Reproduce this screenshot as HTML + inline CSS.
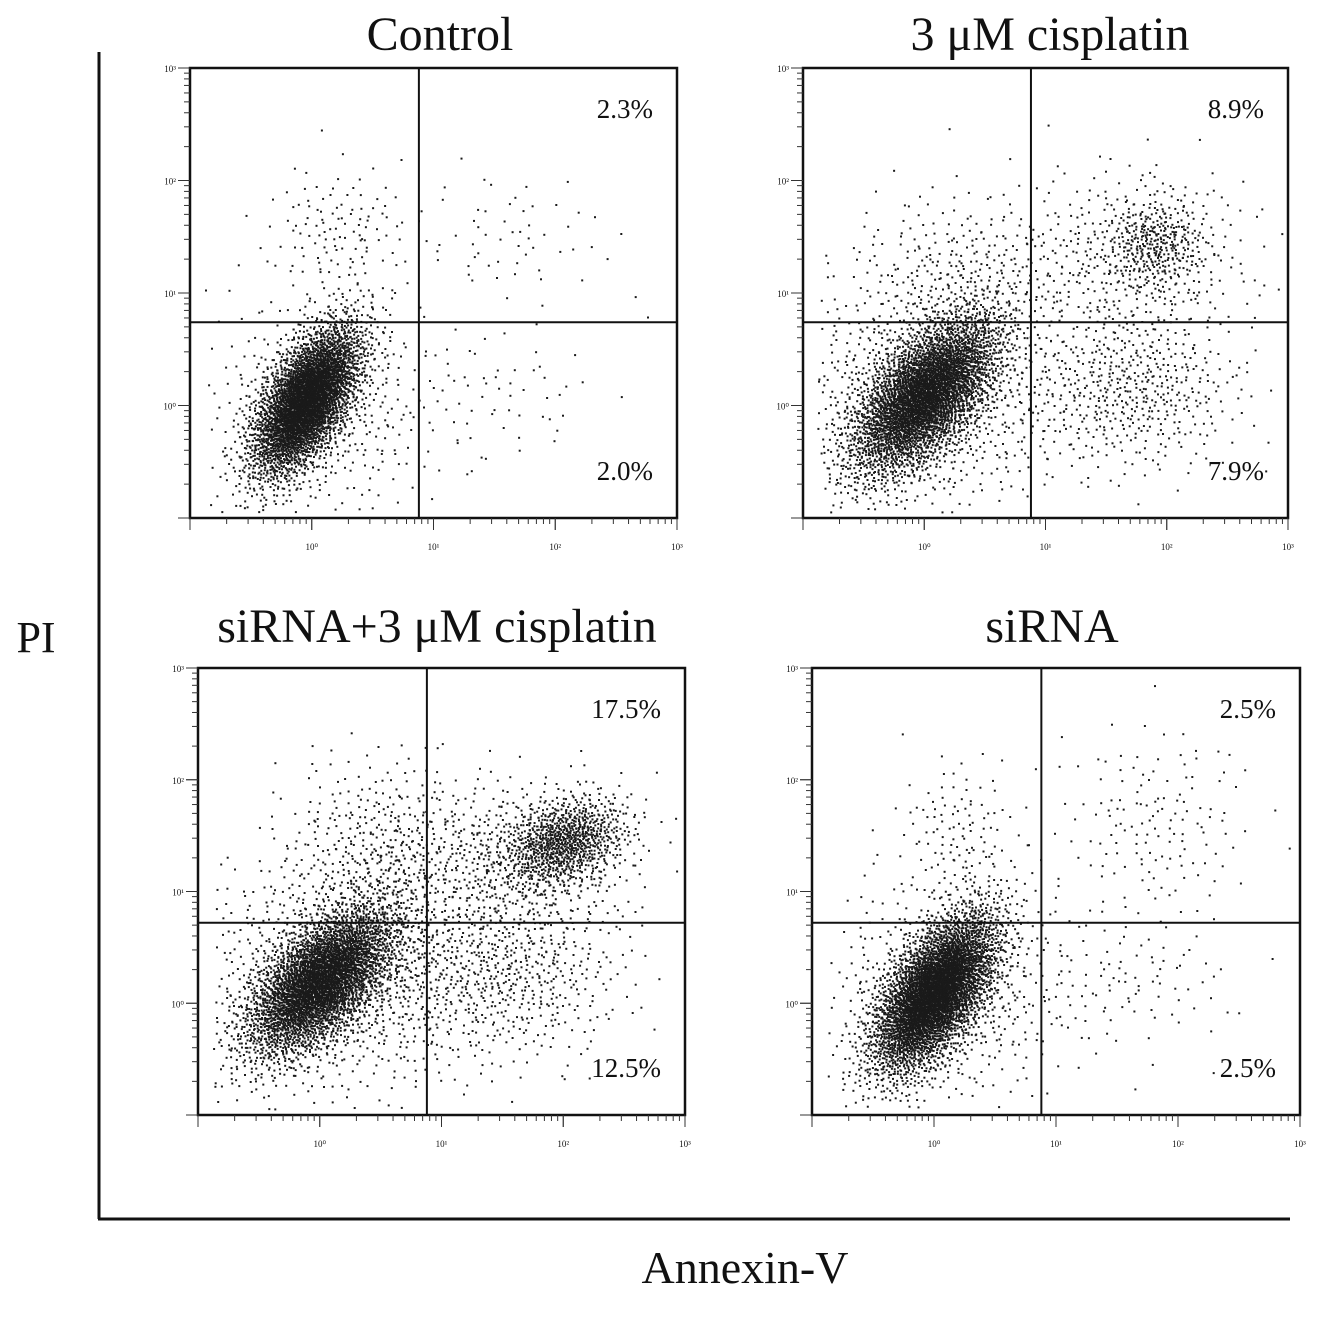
<!DOCTYPE html>
<html><head><meta charset="utf-8">
<style>
body{margin:0;background:#fff;}
svg text{font-family:"Liberation Serif",serif;fill:#111;}
</style></head>
<body>
<svg id="fig" width="1323" height="1318" viewBox="0 0 1323 1318" xmlns="http://www.w3.org/2000/svg">
<line x1="99" y1="52" x2="99" y2="1219" stroke="#111" stroke-width="3"/>
<line x1="98" y1="1219" x2="1290" y2="1219" stroke="#111" stroke-width="3"/>
<text x="36" y="652" font-size="44" text-anchor="middle">PI</text>
<text x="745" y="1283" font-size="46" text-anchor="middle">Annexin-V</text>
</svg>
<script>
// Panel data
const panelTitles = ["Control", "3 \u03BCM cisplatin", "siRNA+3 \u03BCM cisplatin", "siRNA"];
const panelURPercent = ["2.3%", "8.9%", "17.5%", "2.5%"];
const panelLRPercent = ["2.0%", "7.9%", "12.5%", "2.5%"];
const gateX = [0.88, 0.88, 0.88, 0.88];   // log10 Annexin-V gate
const gateY = [0.74, 0.74, 0.72, 0.72];   // log10 PI gate
const tickLabels = ["10\u2070", "10\u00B9", "10\u00B2", "10\u00B3"];
// Population clusters (log units)
const clusterPanel = [0,0,0,0,0, 1,1,1,1,1,1, 2,2,2,2,2,2, 3,3,3,3,3];
const clusterX  = [-0.05,0.1,0.2,1.6,1.6,  0.0,0.0,0.3,1.9,1.7,1.7,  0.0,0.2,0.5,2.0,1.6,1.5,  0.0,0.1,0.2,1.8,1.6];
const clusterY  = [0.05,0.0,1.55,1.5,0.1,  0.1,0.1,1.2,1.45,1.3,0.15,  0.2,0.3,1.4,1.45,1.3,0.3,  0.1,0.1,1.5,1.6,0.2];
const clusterSX = [0.22,0.5,0.3,0.45,0.4,  0.3,0.6,0.45,0.2,0.5,0.45,  0.3,0.6,0.4,0.25,0.5,0.5,  0.25,0.5,0.25,0.4,0.45];
const clusterSY = [0.33,0.5,0.3,0.3,0.3,  0.35,0.55,0.35,0.2,0.4,0.35,  0.33,0.55,0.4,0.2,0.35,0.4,  0.35,0.5,0.35,0.45,0.3];
const clusterRho= [0.6,0,0,0,0,  0.6,0,0,0,0,0,  0.6,0,0,0.3,0,0,  0.6,0,0,0,0];
const clusterN  = [4000,400,120,60,50,  4000,850,250,300,400,500,  4000,950,350,900,500,600,  4500,550,120,150,90];

const boxes = [
  {x0:190,x1:677,y0:68,y1:518,tx:440,ty:50},
  {x0:803,x1:1288,y0:68,y1:518,tx:1050,ty:50},
  {x0:198,x1:685,y0:668,y1:1115,tx:437,ty:642},
  {x0:812,x1:1300,y0:668,y1:1115,tx:1052,ty:642}
];
const NS="http://www.w3.org/2000/svg";
const svg=document.getElementById('fig');
function mk(t,a,p){const e=document.createElementNS(NS,t);for(const k in a)e.setAttribute(k,a[k]);(p||svg).appendChild(e);return e;}
function halton(i,b){let f=1,r=0;while(i>0){f/=b;r+=f*(i%b);i=Math.floor(i/b);}return r;}

boxes.forEach((b,pi)=>{
  const g=mk('g',{});
  
  
  const sx=v=>b.x0+(v+1)/4*(b.x1-b.x0);
  const sy=v=>b.y1-(v+1)/4*(b.y1-b.y0);
  const t=mk('text',{x:b.tx,y:b.ty,'font-size':48,'text-anchor':'middle'},g);
  t.textContent=panelTitles[pi];
  
  
  const dg=mk('g',{fill:'#1a1a1a'},g);
  
  
  let idx=1+pi*20000;
  clusterPanel.forEach((p,ci)=>{
    if(p!==pi)return;
    for(let k=0;k<clusterN[ci];k++,idx++){
      const u1=Math.max(1e-6,halton(idx,2)),u2=halton(idx,3);
      const r=Math.sqrt(-2*Math.log(u1));
      const z1=r*Math.cos(2*Math.PI*u2),z2=r*Math.sin(2*Math.PI*u2);
      const rho=clusterRho[ci];
      const lx=clusterX[ci]+clusterSX[ci]*z1;
      const ly=clusterY[ci]+clusterSY[ci]*(rho*z1+Math.sqrt(1-rho*rho)*z2);
      const px=sx(lx),py=sy(ly);
      if(px<b.x0+14||px>b.x1-6||py<b.y0+6||py>b.y1-6)continue;
      mk('rect',{x:px.toFixed(1),y:py.toFixed(1),width:2,height:2},dg);
    }
  });
  const rb=mk('rect',{x:b.x0,y:b.y0,width:b.x1-b.x0,height:b.y1-b.y0,fill:'none',stroke:'#111','stroke-width':2.5},g);
  
  
  const gx=mk('line',{x1:sx(gateX[pi]),x2:sx(gateX[pi]),y1:b.y0,y2:b.y1,stroke:'#111','stroke-width':2},g);
  
  
  const gy=mk('line',{x1:b.x0,x2:b.x1,y1:sy(gateY[pi]),y2:sy(gateY[pi]),stroke:'#111','stroke-width':2},g);
  
  
  for(let dec=-1;dec<3;dec++){
    for(let m=1;m<=10;m++){
      const v=dec+Math.log10(m);
      const major=(m===1||m===10);
      const L=major?12:6;
      mk('line',{x1:sx(v),x2:sx(v),y1:b.y1,y2:b.y1+L,stroke:'#333','stroke-width':1},g);
      mk('line',{x1:b.x0,x2:b.x0-L,y1:sy(v),y2:sy(v),stroke:'#333','stroke-width':1},g);
    }
  }
  tickLabels.forEach((lab,i)=>{
    const tx=mk('text',{x:sx(i),y:b.y1+32,'font-size':9,'text-anchor':'middle',fill:'#444'},g);
    tx.textContent=lab;
    
    
    const ty=mk('text',{x:b.x0-14,y:sy(i)+4,'font-size':9,'text-anchor':'end',fill:'#444'},g);
    ty.textContent=lab;
    
    
  });
  const ur=mk('text',{x:b.x1-24,y:b.y0+50,'font-size':27,'text-anchor':'end'},g);
  ur.textContent=panelURPercent[pi];
  
  
  const lr=mk('text',{x:b.x1-24,y:b.y1-38,'font-size':27,'text-anchor':'end'},g);
  lr.textContent=panelLRPercent[pi];
  
  
});
</script>
</body></html>
